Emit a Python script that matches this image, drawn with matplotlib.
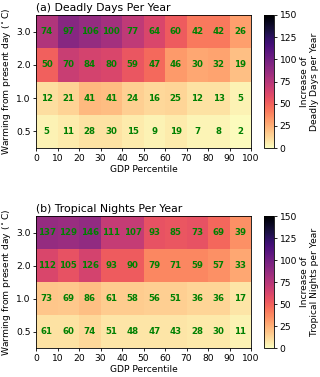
import numpy as np
import matplotlib
matplotlib.use("Agg")
import matplotlib.pyplot as plt

gdp_edges = [0, 10, 20, 30, 40, 50, 60, 70, 80, 90, 100]
warming_labels = ["0.5", "1.0", "2.0", "3.0"]

# annotated values (rows: 0.5, 1.0, 2.0, 3.0)
deadly_values = [
    [5, 11, 28, 30, 15, 9, 19, 7, 8, 2],
    [12, 21, 41, 41, 24, 16, 25, 12, 13, 5],
    [50, 70, 84, 80, 59, 47, 46, 30, 32, 19],
    [74, 97, 106, 100, 77, 64, 60, 42, 42, 26],
]
tropical_values = [
    [61, 60, 74, 51, 48, 47, 43, 28, 30, 11],
    [73, 69, 86, 61, 58, 56, 51, 36, 36, 17],
    [112, 105, 126, 93, 90, 79, 71, 59, 57, 33],
    [137, 129, 146, 111, 107, 93, 85, 73, 69, 39],
]
# cell colour levels
deadly_colors = [
    [4, 6, 9, 9, 6, 4, 6, 3, 3, 1],
    [10, 14, 22, 21, 15, 12, 13, 9, 9, 4],
    [50, 68, 64, 62, 54, 47, 32, 28, 29, 20],
    [77, 92, 87, 82, 72, 62, 52, 42, 42, 30],
]
tropical_colors = [
    [9, 9, 12, 8, 8, 8, 8, 7, 7, 4],
    [18, 17, 20, 16, 16, 15, 15, 13, 13, 8],
    [62, 56, 64, 52, 52, 38, 38, 38, 35, 28],
    [87, 85, 88, 70, 70, 56, 54, 56, 48, 35],
]

titles = ["(a) Deadly Days Per Year", "(b) Tropical Nights Per Year"]
cbar_labels = ["Increase of\nDeadly Days per Year", "Increase of\nTropical Nights per Year"]

W, H = 320, 377
fig = plt.figure(figsize=(W / 100, H / 100), dpi=100)
fs = 6.6

panels = [
    (deadly_values, deadly_colors, 15, 148),
    (tropical_values, tropical_colors, 216, 348),
]
for i, (vals, cols, top, bot) in enumerate(panels):
    ax = fig.add_axes([36 / W, 1 - bot / H, (251 - 36) / W, (bot - top) / H])
    cax = fig.add_axes([264 / W, 1 - bot / H, 10 / W, (bot - top) / H])
    y_edges = np.arange(len(warming_labels) + 1)
    mesh = ax.pcolormesh(gdp_edges, y_edges, np.array(cols), cmap="magma_r", vmin=0, vmax=150)
    v = np.array(vals)
    for r in range(v.shape[0]):
        for c in range(v.shape[1]):
            xc = (gdp_edges[c] + gdp_edges[c + 1]) / 2
            ax.text(xc, r + 0.5, str(v[r, c]), ha="center", va="center",
                    color="green", fontsize=6.2, fontweight="bold")
    ax.set_xticks(gdp_edges)
    ax.set_xticklabels([str(g) for g in gdp_edges])
    ax.set_yticks(np.arange(len(warming_labels)) + 0.5)
    ax.set_yticklabels(warming_labels)
    ax.tick_params(labelsize=fs, length=2.5, width=0.6, pad=1.5)
    ax.set_xlabel("GDP Percentile", fontsize=fs, labelpad=2)
    ax.set_ylabel(r"Warming from present day ($^\circ$C)", fontsize=fs, labelpad=2)
    ax.set_title(titles[i], loc="left", fontsize=7.8, pad=3)
    for s in ax.spines.values():
        s.set_linewidth(0.6)
    cb = fig.colorbar(mesh, cax=cax, ticks=[0, 25, 50, 75, 100, 125, 150])
    cb.ax.tick_params(labelsize=fs, length=2.5, width=0.6, pad=1.5)
    cb.set_label(cbar_labels[i], fontsize=fs, labelpad=2)
    cb.outline.set_linewidth(0.6)

fig.savefig("out.png", dpi=100)
